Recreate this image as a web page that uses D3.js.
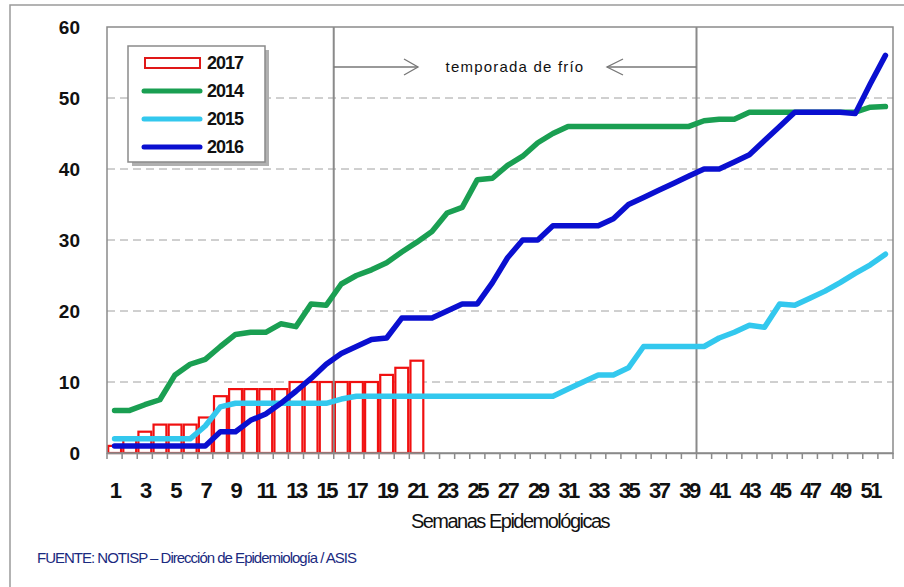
<!DOCTYPE html>
<html>
<head>
<meta charset="utf-8">
<script src="https://cdn.jsdelivr.net/npm/d3@7"></script>
<style>
  body { margin: 0; background: #fff; }
  svg { display: block; font-family: "Liberation Sans", Arial, sans-serif; }
</style>
</head>
<body>
<div id="chart"></div>
<script>
// weeks 1..52
const weeks = d3.range(1, 53);
const tickWeeks = weeks.filter(w => w % 2 === 1);
const yTicks = [0, 10, 20, 30, 40, 50, 60];

// 2017 bars (weeks 1-21)
const cases2017 = [1, 2, 3, 4, 4, 4, 5, 8, 9, 9, 9, 9, 10, 10, 10, 10, 10, 10, 11, 12, 13];

// cumulative lines
const cases2014 = [6, 6, 6.8, 7.5, 11, 12.5, 13.2, 15, 16.7, 17, 17, 18.2, 17.8, 21, 20.8, 23.8,
  25, 25.8, 26.8, 28.3, 29.7, 31.2, 33.8, 34.6, 38.5, 38.7, 40.5, 41.8, 43.7, 45, 46, 46,
  46, 46, 46, 46, 46, 46, 46, 46.8, 47, 47, 48, 48, 48, 48, 48, 48, 48, 48, 48.7, 48.8];
const cases2015 = [2, 2, 2, 2, 2, 2, 3.8, 6.5, 7, 7, 7, 7, 7, 7, 7, 7.6,
  8, 8, 8, 8, 8, 8, 8, 8, 8, 8, 8, 8, 8, 8, 9, 10,
  11, 11, 12, 15, 15, 15, 15, 15, 16.2, 17, 18, 17.7, 21, 20.8, 21.8, 22.8, 24, 25.3, 26.5, 28];
const cases2016 = [1, 1, 1, 1, 1, 1, 1, 3, 3, 4.6, 5.5, 7, 8.7, 10.5, 12.5, 14,
  15, 16, 16.2, 19, 19, 19, 20, 21, 21, 24, 27.5, 30, 30, 32, 32, 32,
  32, 33, 35, 36, 37, 38, 39, 40, 40, 41, 42, 44, 46, 48, 48, 48, 48, 47.8, 52, 56];

const series = [
  { name: "2014", values: cases2014, color: "#1a9f52" },
  { name: "2015", values: cases2015, color: "#33c8ee" },
  { name: "2016", values: cases2016, color: "#0a0fd0" }
];

const W = 904, H = 587;
const plot = { left: 107, right: 893, top: 27, bottom: 453 };

const svg = d3.select("#chart").append("svg")
  .attr("width", W).attr("height", H);

// outer frame
svg.append("rect")
  .attr("x", 10).attr("y", 5).attr("width", 900).attr("height", 600)
  .attr("fill", "#fff").attr("stroke", "#9a9a9a").attr("stroke-width", 1.5);

const x = d3.scaleBand().domain(weeks).range([plot.left, plot.right]).paddingInner(0.15).paddingOuter(0.08);
const xs = d3.scaleBand().domain(weeks).range([plot.left, plot.right]);
const y = d3.scaleLinear().domain([0, 60]).range([plot.bottom, plot.top]);

// dashed gridlines
svg.append("g")
  .selectAll("line")
  .data(yTicks.filter(d => d > 0 && d < 60))
  .enter().append("line")
    .attr("x1", plot.left).attr("x2", plot.right)
    .attr("y1", d => y(d)).attr("y2", d => y(d))
    .attr("stroke", "#a0a0a0").attr("stroke-width", 1)
    .attr("stroke-dasharray", "8,5");

// bars 2017
svg.append("g")
  .selectAll("rect")
  .data(cases2017)
  .enter().append("rect")
    .attr("x", (d, i) => x(weeks[i]))
    .attr("y", d => y(d))
    .attr("width", x.bandwidth())
    .attr("height", d => y(0) - y(d))
    .attr("fill", "#fff")
    .attr("stroke", "#f01010").attr("stroke-width", 2.2);

// season lines (after week 15 and week 39)
const seasonLines = [15, 39];
svg.append("g")
  .selectAll("line")
  .data(seasonLines)
  .enter().append("line")
    .attr("x1", d => xs(d) + xs.bandwidth()).attr("x2", d => xs(d) + xs.bandwidth())
    .attr("y1", plot.top).attr("y2", plot.bottom)
    .attr("stroke", "#8a8a8a").attr("stroke-width", 2);

// plot border
svg.append("rect")
  .attr("x", plot.left).attr("y", plot.top)
  .attr("width", plot.right - plot.left).attr("height", plot.bottom - plot.top)
  .attr("fill", "none").attr("stroke", "#8a8a8a").attr("stroke-width", 1.5);

// lines
const line = d3.line()
  .x((d, i) => xs(weeks[i]) + xs.bandwidth() / 2)
  .y(d => y(d));

series.forEach(s => {
  svg.append("path")
    .datum(s.values)
    .attr("d", line)
    .attr("fill", "none")
    .attr("stroke", s.color)
    .attr("stroke-width", 5.5)
    .attr("stroke-linejoin", "round")
    .attr("stroke-linecap", "round");
});

// x axis
const xAxis = svg.append("g")
  .attr("transform", `translate(0,${plot.bottom})`)
  .call(d3.axisBottom(xs).tickValues(tickWeeks).tickSize(0).tickPadding(29));
xAxis.select(".domain").attr("stroke", "#8a8a8a").attr("stroke-width", 1.5);
xAxis.selectAll("text")
  .attr("fill", "#111")
  .style("font-size", "22px")
  .style("font-weight", "bold")
  .style("letter-spacing", "-2.5px");

// tick marks at band boundaries
svg.append("g")
  .selectAll("line")
  .data(weeks.concat([53]))
  .enter().append("line")
    .attr("x1", d => d === 53 ? plot.right : xs(d))
    .attr("x2", d => d === 53 ? plot.right : xs(d))
    .attr("y1", plot.bottom).attr("y2", plot.bottom + 6)
    .attr("stroke", "#8a8a8a").attr("stroke-width", 1.5);

// y axis labels
const yAxis = svg.append("g")
  .attr("transform", `translate(${plot.left},0)`)
  .call(d3.axisLeft(y).tickValues(yTicks).tickSize(0).tickPadding(27));
yAxis.select(".domain").remove();
yAxis.selectAll("text")
  .attr("fill", "#111")
  .style("font-size", "19px")
  .style("font-weight", "bold");

// axis title
svg.append("text")
  .attr("x", 510).attr("y", 528)
  .attr("text-anchor", "middle")
  .style("font-size", "20px")
  .style("letter-spacing", "-1.5px")
  .attr("fill", "#111")
  .text("Semanas Epidemológicas");

// source
svg.append("text")
  .attr("x", 37).attr("y", 563)
  .style("font-size", "15px")
  .style("letter-spacing", "-1px")
  .attr("fill", "#1a2a80")
  .text("FUENTE: NOTISP – Dirección de Epidemiología / ASIS");

// season annotation
const annY = 67;
const ann = svg.append("g").attr("stroke", "#777").attr("stroke-width", 1.3).attr("fill", "none");
ann.append("line").attr("x1", xs(15) + xs.bandwidth()).attr("x2", 418).attr("y1", annY).attr("y2", annY);
ann.append("path").attr("d", `M404,${annY - 8}L418,${annY}L404,${annY + 8}`);
ann.append("line").attr("x1", 607).attr("x2", xs(39) + xs.bandwidth()).attr("y1", annY).attr("y2", annY);
ann.append("path").attr("d", `M623,${annY - 8}L607,${annY}L623,${annY + 8}`);
svg.append("text")
  .attr("x", 515).attr("y", annY + 5)
  .attr("text-anchor", "middle")
  .style("font-size", "15px")
  .style("letter-spacing", "1.2px")
  .attr("fill", "#111")
  .text("temporada de frío");

// legend
const lg = svg.append("g").attr("transform", "translate(128,46)");
lg.append("rect").attr("x", 4).attr("y", 4).attr("width", 137).attr("height", 116).attr("fill", "#b0b0b0");
lg.append("rect").attr("width", 137).attr("height", 116).attr("fill", "#fff").attr("stroke", "#8a8a8a").attr("stroke-width", 1.5);
const legendItems = [{ name: "2017", bar: true }].concat(series);
legendItems.forEach((d, i) => {
  const cy = 17 + i * 28;
  if (d.bar) {
    lg.append("rect").attr("x", 17).attr("y", cy - 5).attr("width", 55).attr("height", 10)
      .attr("fill", "#fff").attr("stroke", "#e01818").attr("stroke-width", 2);
  } else {
    lg.append("line").attr("x1", 16).attr("x2", 72).attr("y1", cy).attr("y2", cy)
      .attr("stroke", d.color).attr("stroke-width", 5).attr("stroke-linecap", "round");
  }
  lg.append("text").attr("x", 79).attr("y", cy + 6)
    .style("font-size", "18px").style("font-weight", "bold").style("letter-spacing", "-1px")
    .attr("fill", "#111").text(d.name);
});
</script>
</body>
</html>
